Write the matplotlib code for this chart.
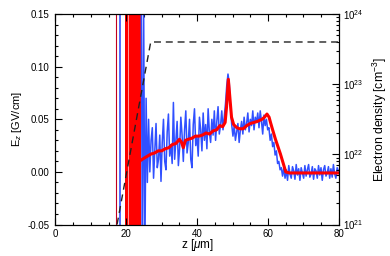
#!/usr/bin/env python3
"""Ez on-axis field and electron density profile."""
import numpy as np
import matplotlib
matplotlib.use('Agg')
import matplotlib.pyplot as plt
from matplotlib.ticker import MultipleLocator, LogLocator, NullFormatter

plt.rcParams['font.family'] = ['Liberation Sans', 'DejaVu Sans']
plt.rcParams['mathtext.fontset'] = 'custom'
plt.rcParams['mathtext.rm'] = 'Liberation Sans'
plt.rcParams['mathtext.it'] = 'Liberation Sans:italic'

# raw Ez (blue), sampled every blue_dz starting at blue_z0 [um], GV/cm
blue_z0 = 24.2
blue_dz = 0.35
blue_E = [
    0.20, -0.10, 0.16, -0.08, 0.07, -0.01,
    0.050, 0.000, 0.030, 0.042, -0.006, 0.020, 0.046, 0.004, 0.012, 0.035,
    -0.009, 0.028, 0.050, 0.010, 0.002, 0.038, 0.055, 0.015, 0.026, 0.008,
    0.066, 0.012, 0.030, 0.048, 0.006, 0.022, 0.052, 0.035, 0.010, 0.040,
    0.058, 0.018, 0.028, 0.050, 0.012, 0.004, 0.045, 0.060, 0.025, 0.034,
    0.015, 0.052, 0.040, 0.020, 0.056, 0.030, 0.045, 0.022, 0.060, 0.038,
    0.028, 0.050, 0.035, 0.058, 0.030, 0.048, 0.062, 0.036, 0.044, 0.058,
    0.040, 0.052,
    0.065, 0.082, 0.093, 0.085, 0.062, 0.045,
    0.034, 0.044, 0.030, 0.038, 0.046, 0.028, 0.040, 0.048, 0.036, 0.052,
    0.040, 0.046, 0.056, 0.038, 0.050, 0.044, 0.058, 0.040, 0.052, 0.047,
    0.056, 0.042, 0.058, 0.048, 0.036, 0.054, 0.044, 0.050, 0.040,
    0.042, 0.030, 0.036, 0.024, 0.028, 0.016, 0.020, 0.008, 0.010, 0.002,
    0.004, -0.004,
    0.004, -0.006, 0.002, -0.008, 0.006, -0.002, -0.006, 0.005, 0.001, -0.007,
    0.007, -0.003, 0.003, -0.008, 0.004, -0.001, -0.006, 0.006, -0.004, 0.002,
    0.007, -0.005, -0.002, 0.005, -0.007, 0.003, 0.001, -0.006, 0.006, -0.003,
    0.004, -0.008, 0.002, 0.006, -0.004, -0.001, 0.005, -0.006, 0.003, -0.005,
    0.007, -0.002, -0.006, 0.004, 0.001,
]

# smoothed Ez (red)
red_z = [24.1, 25, 26, 27, 28, 29, 30, 31, 32, 33, 34, 35, 35.6, 36.1, 36.7,
         37.5, 38.5, 39.5, 40.5, 41.5, 42.5, 43.5, 44.5, 45.5, 46.4, 47.2, 47.9,
         48.3, 48.8, 49.3, 49.7, 50.3, 51.2, 52, 53, 54, 55, 56, 57, 58.3, 59,
         59.7, 60.3, 60.7, 61.3, 62.1, 62.8, 63.5, 64.3, 65, 66, 70, 75, 80]
red_E = [0.011, 0.013, 0.015, 0.017, 0.018, 0.020, 0.020, 0.022, 0.023, 0.026,
         0.027, 0.031, 0.028, 0.023, 0.030, 0.031, 0.032, 0.034, 0.034, 0.035,
         0.037, 0.036, 0.039, 0.040, 0.044, 0.043, 0.047, 0.062, 0.088, 0.068,
         0.052, 0.045, 0.042, 0.041, 0.041, 0.044, 0.046, 0.047, 0.048, 0.050,
         0.052, 0.055, 0.052, 0.047, 0.040, 0.031, 0.024, 0.017, 0.008, 0.0,
         -0.001, -0.001, -0.001, -0.001]

# off-scale field near the density ramp
red_spikes = [17.2]
red_band = [19.7, 24.1]
pale_lines = [20.6]
blue_spikes = [18.2]

# electron density profile
dens_z = [17.4, 26.9, 80]
dens_n = [1e21, 4e23, 4e23]

fig = plt.figure(figsize=(3.9, 2.56), dpi=100)
ax = fig.add_axes([0.142, 0.123, 0.727, 0.822])

blue_z = blue_z0 + blue_dz * np.arange(len(blue_E))
blue = '#3050ff'
for z in blue_spikes:
    ax.axvline(z, color=blue, lw=1.2)
ax.plot(blue_z, blue_E, color=blue, lw=1.1)
for z in red_spikes:
    ax.axvline(z, color='#c00020', lw=0.8)
ax.axvspan(red_band[0], red_band[1], color='red', lw=0)
for z in pale_lines:
    ax.axvline(z, color='#ffb8b8', lw=0.6)
ax.plot(red_z, red_E, color='red', lw=2.2)

ax.set_xlim(0, 80)
ax.set_ylim(-0.05, 0.15)
ax.xaxis.set_major_locator(MultipleLocator(20))
ax.xaxis.set_minor_locator(MultipleLocator(5))
ax.yaxis.set_major_locator(MultipleLocator(0.05))
ax.yaxis.set_minor_locator(MultipleLocator(0.01))
ax.yaxis.set_major_formatter(plt.FormatStrFormatter('%.2f'))
ax.tick_params(which='both', direction='in', top=True, labelsize=7, width=0.8)
ax.tick_params(axis='y', pad=4)
ax.tick_params(axis='x', pad=3)
ax.tick_params(which='major', length=5)
ax.tick_params(which='minor', length=2.5)
ax.set_xlabel(r'z [$\mu$m]', fontsize=8.5, labelpad=-1)
ax.set_ylabel(r'E$_z$ [GV/cm]', fontsize=8, labelpad=3)

ax2 = ax.twinx()
ax2.plot(dens_z, dens_n, color='#222222', lw=1.0, ls=(0, (5, 3.5)))
ax2.set_yscale('log')
ax2.set_ylim(1e21, 1e24)
ax2.yaxis.set_major_locator(LogLocator(base=10))
ax2.yaxis.set_minor_locator(LogLocator(base=10, subs=np.arange(2, 10)))
ax2.yaxis.set_minor_formatter(NullFormatter())
ax2.tick_params(which='both', direction='in', labelsize=7, width=0.8, pad=3)
ax2.tick_params(which='major', length=5)
ax2.tick_params(which='minor', length=2.5)
ax2.set_ylabel(r'Electron density [cm$^{-3}$]', fontsize=8.8, labelpad=5)

for a in (ax, ax2):
    for s in a.spines.values():
        s.set_linewidth(0.8)

fig.savefig('out.png', dpi=100, facecolor='white')
